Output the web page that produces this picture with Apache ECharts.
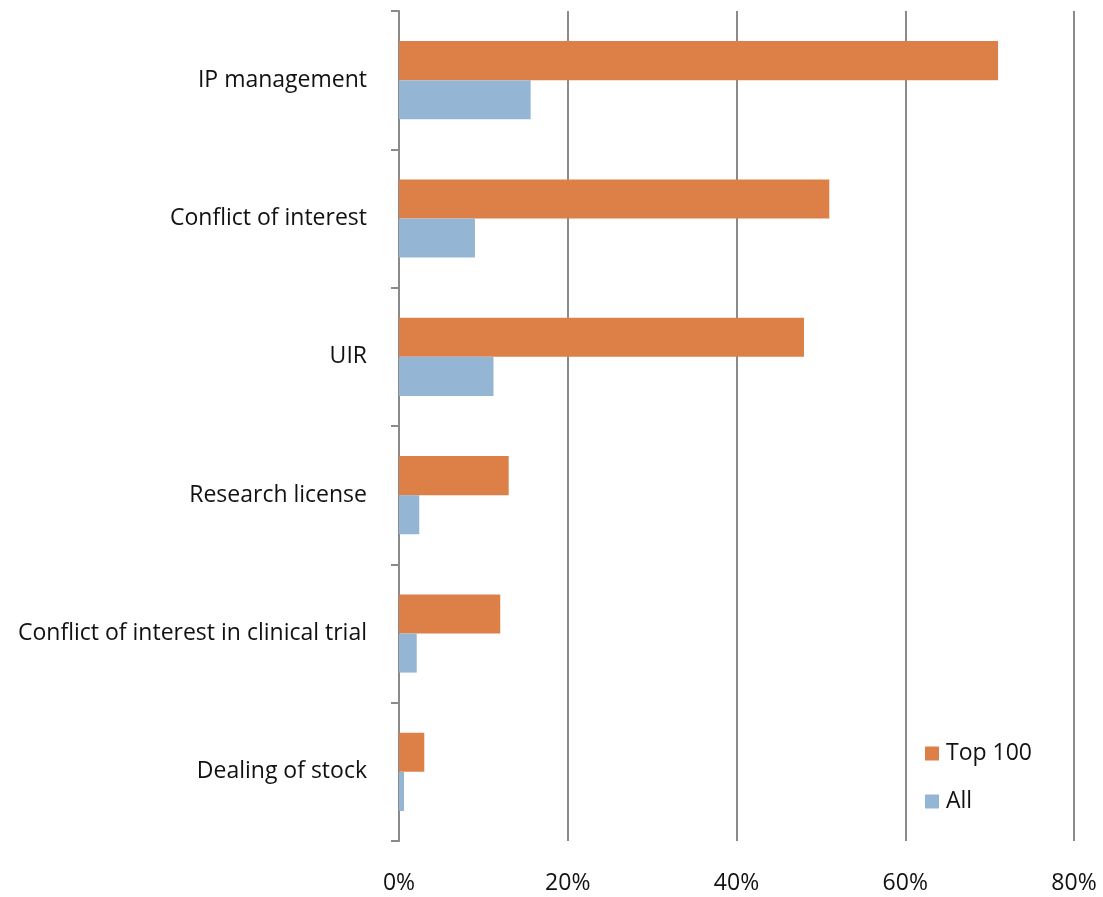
<!DOCTYPE html>
<html>
<head>
<meta charset="utf-8">
<script src="https://cdn.jsdelivr.net/npm/echarts@6/dist/echarts.min.js"></script>
<style>
  html, body { margin: 0; padding: 0; background: #fff; }
  #chart { width: 1103px; height: 897px; }
</style>
</head>
<body>
<div id="chart"></div>
<script>
// Categories listed top to bottom
const categories = [
  'IP management',
  'Conflict of interest',
  'UIR',
  'Research license',
  'Conflict of interest in clinical trial',
  'Dealing of stock'
];
// Share of institutions (%)
const top100 = [71.0, 51.0, 48.0, 13.0, 12.0, 3.0];
const all = [15.6, 9.0, 11.2, 2.4, 2.1, 0.6];
const xTicks = [0, 20, 40, 60, 80];

const FONT = '"Open Sans", "Liberation Sans", sans-serif';
const chart = echarts.init(document.getElementById('chart'));
chart.setOption({
  animation: false,
  textStyle: { fontFamily: FONT },
  grid: { left: 399, right: 29, top: 11, bottom: 56 },
  legend: {
    orient: 'vertical',
    right: 66,
    top: 737,
    itemWidth: 14,
    itemHeight: 14,
    itemGap: 25,
    icon: 'rect',
    textStyle: { fontSize: 23, color: '#111', fontFamily: FONT, padding: [0, 0, 0, 2] },
    data: ['Top 100', 'All']
  },
  xAxis: {
    type: 'value',
    min: xTicks[0],
    max: xTicks[xTicks.length - 1],
    interval: 20,
    axisLine: { show: false },
    axisTick: { show: false },
    axisLabel: {
      formatter: v => v + '%',
      fontSize: 23,
      color: '#111',
      margin: 31
    },
    splitLine: { lineStyle: { color: '#8a8a8a', width: 2 } }
  },
  yAxis: {
    type: 'category',
    inverse: true,
    data: categories,
    axisLine: { lineStyle: { color: '#8a8a8a', width: 2 } },
    axisTick: { show: true, length: 8, lineStyle: { color: '#8a8a8a', width: 2 } },
    axisLabel: { fontSize: 23, color: '#111', margin: 32 }
  },
  series: [
    {
      name: 'Top 100',
      type: 'bar',
      data: top100,
      barGap: '0%',
      barCategoryGap: '43.5%',
      itemStyle: { color: '#DD8047' }
    },
    {
      name: 'All',
      type: 'bar',
      data: all,
      barGap: '0%',
      barCategoryGap: '43.5%',
      itemStyle: { color: '#94B5D3' }
    }
  ]
});
</script>
</body>
</html>
